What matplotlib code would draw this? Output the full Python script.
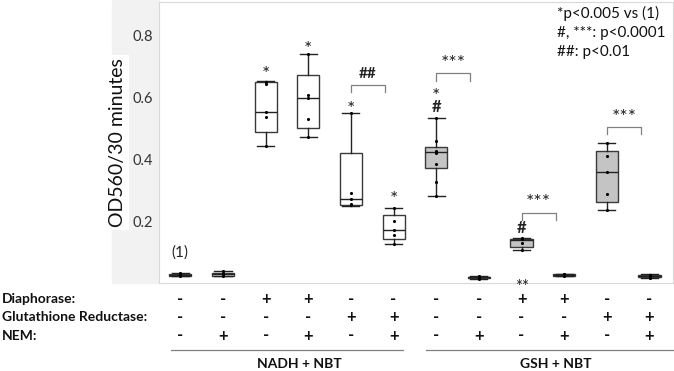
import matplotlib
matplotlib.use('Agg')
import matplotlib.pyplot as plt
import matplotlib.transforms as mtransforms
from matplotlib.patches import Rectangle
from matplotlib.lines import Line2D

plt.rcParams['font.family'] = ['Lato', 'DejaVu Sans']

# box statistics (OD560 / 30 min)
whislo = [0.022, 0.022, 0.444, 0.472, 0.250, 0.125, 0.281, 0.013, 0.106, 0.022, 0.235, 0.015]
q1 = [0.024, 0.024, 0.490, 0.501, 0.252, 0.141, 0.372, 0.015, 0.117, 0.024, 0.261, 0.018]
med = [0.027, 0.030, 0.555, 0.598, 0.272, 0.171, 0.424, 0.018, 0.138, 0.026, 0.359, 0.022]
q3 = [0.030, 0.034, 0.652, 0.672, 0.421, 0.219, 0.442, 0.021, 0.143, 0.028, 0.429, 0.026]
whishi = [0.034, 0.038, 0.654, 0.743, 0.550, 0.243, 0.535, 0.024, 0.145, 0.030, 0.453, 0.028]
shaded = [False, False, False, False, False, False, True, False, True, False, True, False]

points = [
    [0.022, 0.025, 0.027, 0.030, 0.034],
    [0.022, 0.026, 0.030, 0.034, 0.038],
    [0.444, 0.537, 0.555, 0.643, 0.650],
    [0.472, 0.531, 0.600, 0.609, 0.743],
    [0.252, 0.257, 0.272, 0.291, 0.550],
    [0.125, 0.154, 0.171, 0.200, 0.243],
    [0.281, 0.327, 0.386, 0.420, 0.424, 0.429, 0.461, 0.535],
    [0.013, 0.016, 0.018, 0.020, 0.024],
    [0.106, 0.128, 0.141, 0.145],
    [0.022, 0.025, 0.026, 0.028, 0.030],
    [0.235, 0.289, 0.359, 0.412, 0.453],
    [0.015, 0.022, 0.026],
]

# significance marks above single boxes: (box, text, y)
marks = [(3, '*', 0.686), (4, '*', 0.765), (5, '*', 0.573), (6, '*', 0.279),
         (7, '*', 0.614), (7, '#', 0.569), (9, '#', 0.179)]
# brackets between pairs: (left box, text, y)
brackets = [(5, '##', 0.641), (7, '***', 0.679), (9, '***', 0.227), (11, '***', 0.505)]

row_names = ['Diaphorase:', 'Glutathione Reductase:', 'NEM:']
diaphorase = ['-', '-', '+', '+', '-', '-', '-', '-', '+', '+', '-', '-']
gr = ['-', '-', '-', '-', '+', '+', '-', '-', '-', '-', '+', '+']
nem = ['-', '+', '-', '+', '-', '+', '-', '+', '-', '+', '-', '+']
groups = ['NADH + NBT', 'GSH + NBT']
legend_lines = ['*p<0.005 vs (1)', '#, ***: p<0.0001', '##: p<0.01']

fig = plt.figure(figsize=(6.74, 3.71), dpi=100)
ax = fig.add_axes([159 / 674, 1 - 283 / 371, 514 / 674, 281 / 371])

# light grey band behind the y axis labels
fig.patches.append(Rectangle((112 / 674, 1 - 283 / 371), 47 / 674, 283 / 371,
                             transform=fig.transFigure, color='#f2f2f2', zorder=-1))

pos = list(range(1, 13))
stats = []
for i in range(12):
    stats.append(dict(whislo=whislo[i], q1=q1[i], med=med[i], q3=q3[i],
                      whishi=whishi[i], fliers=[]))
bp = ax.bxp(stats, positions=pos, widths=0.52, patch_artist=True, showfliers=False,
            boxprops=dict(edgecolor='#3a3a3a', linewidth=1.0),
            medianprops=dict(color='#222222', linewidth=1.0),
            whiskerprops=dict(color='#222222', linewidth=1.0),
            capprops=dict(color='#222222', linewidth=1.0), capwidths=0.4)
for box, s in zip(bp['boxes'], shaded):
    box.set_facecolor('#c4c4c4' if s else 'white')

for p, vals in zip(pos, points):
    ax.scatter([p] * len(vals), vals, s=5, color='black', zorder=4, linewidths=0)

for b, t, y in marks:
    if t == '*':
        ax.text(b, y - 0.01, t, ha='center', va='center', fontsize=14, color='#222222')
    else:
        ax.text(b, y, t, ha='center', va='center', fontsize=12, fontweight='bold',
                color='#222222')

for b, t, y in brackets:
    x0, x1 = b, b + 0.8
    ax.plot([x0, x0, x1, x1], [y - 0.024, y, y, y - 0.024], color='#808080', lw=0.9)
    if t == '##':
        ax.text((x0 + x1) / 2, y + 0.012, t, ha='center', va='bottom', fontsize=11,
                fontweight='bold', color='#222222')
    else:
        ax.text((x0 + x1) / 2, y + 0.005, t, ha='center', va='bottom', fontsize=14,
                color='#222222')

ax.text(1, 0.10, '(1)', ha='center', va='center', fontsize=11, color='#222222')

ax.set_xlim(0.5, 12.55)
ax.set_ylim(0, 0.91)
ax.set_yticks([0.2, 0.4, 0.6, 0.8])
ax.set_yticklabels(['0.2', '0.4', '0.6', '0.8'])
ax.set_xticks([])
ax.tick_params(axis='y', length=0, labelsize=10.5, labelcolor='#333333', pad=4)
for sp in ax.spines.values():
    sp.set_color('#d9d9d9')
    sp.set_linewidth(0.8)
ax.set_ylabel('OD560/30 minutes', fontsize=14, color='#111111', labelpad=5,
              bbox=dict(facecolor='white', edgecolor='none', pad=2))

for i, line in enumerate(legend_lines):
    fig.text(557 / 674, 1 - (13 + 19.5 * i) / 371, line, ha='left', va='center',
             fontsize=11, color='#111111')

# treatment table under the plot
tr = mtransforms.blended_transform_factory(ax.transData, fig.transFigure)
row_y = [1 - 298.7 / 371, 1 - 317 / 371, 1 - 335.5 / 371]
for name, y, signs in zip(row_names, row_y, [diaphorase, gr, nem]):
    fig.text(2 / 674, y, name, ha='left', va='center', fontsize=10,
             fontweight='bold', color='#111111')
    for p, s in zip(pos, signs):
        ax.text(p, y, s, transform=tr, ha='center', va='center', fontsize=12,
                fontweight='bold', color='#111111')

ax.text(9, 1 - 287 / 371, '**', transform=tr, ha='center', va='center',
        fontsize=12, color='#222222')

line_y = 1 - 350.3 / 371
for (a, b) in [(0.79, 6.23), (6.75, 12.55)]:
    fig.add_artist(Line2D([a, b], [line_y, line_y], transform=tr, color='#808080', lw=0.9))

group_x = [3.8, 9.8]
for gx, g in zip(group_x, groups):
    ax.text(gx, 1 - 364 / 371, g, transform=tr, ha='center', va='center',
            fontsize=10, fontweight='bold', color='#111111')

fig.savefig('out.png', dpi=100)
